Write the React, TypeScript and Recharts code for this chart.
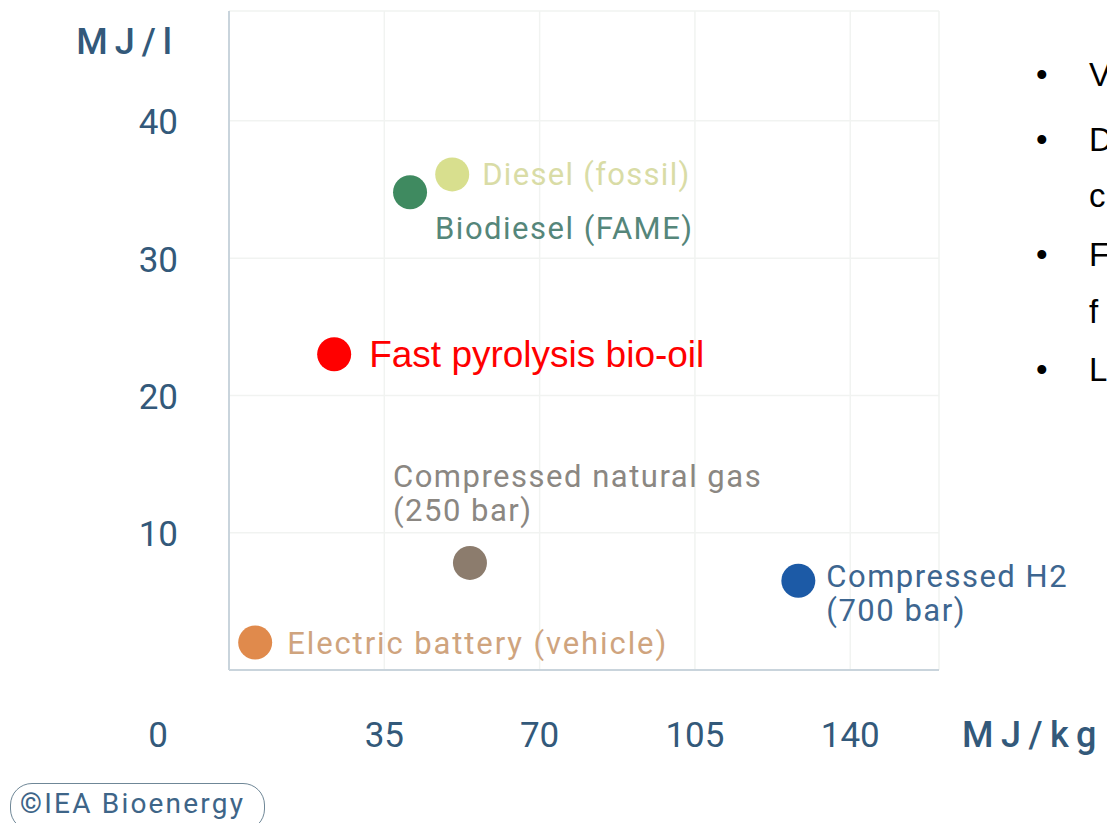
import React from 'react';
import { ScatterChart, Scatter, XAxis, YAxis, CartesianGrid, Label } from 'recharts';

// ---- data ----
const fuelNames = [
  'Diesel (fossil)',
  'Biodiesel (FAME)',
  'Fast pyrolysis bio-oil',
  'Compressed natural gas|(250 bar)',
  'Compressed H2|(700 bar)',
  'Electric battery (vehicle)',
];
const gravimetricMJkg = [50.3, 40.8, 23.7, 54.3, 128.3, 5.9];
const volumetricMJl = [36.1, 34.8, 23.0, 7.8, 6.5, 2.0];
const xTicks = [35, 70, 105, 140];
const yTicks = [0, 10, 20, 30, 40];
const bulletLines = ['V', 'D', 'c', 'F', 'f', 'L'];

// ---- styles ----
const W = 1107;
const H = 823;
const dotColors = ['#d8df8e', '#3f8a60', '#ff0000', '#8c7c6d', '#1c5aa6', '#e08a4c'];
const labelColors = ['#d9dca6', '#55867a', '#ff0000', '#8b8782', '#3d6690', '#cfa47e'];
const labelDx = [30, 25, 35, -77, 28, 32];
const labelDy = [0, 36, 0, -87, -5, 0];
const labelFamily = ['Roboto', 'Roboto', '"Liberation Sans", Arial', 'Roboto', 'Roboto', 'Roboto'];
const labelSize = [31, 31, 37, 31, 31, 31];
const labelSpacing = [1.3, 1.5, 0, 1.5, 1.5, 1.9];
const axisText = '#33597a';

const FuelMark = (props: any) => {
  const { cx, cy, payload } = props;
  const i = payload.i;
  const lines = String(payload.name).split('|');
  return (
    <g>
      <circle cx={cx} cy={cy} r={17} fill={dotColors[i]} />
      <text
        x={cx + labelDx[i]}
        y={cy + labelDy[i]}
        fill={labelColors[i]}
        fontFamily={labelFamily[i]}
        fontSize={labelSize[i]}
        letterSpacing={labelSpacing[i]}
        dominantBaseline="central"
      >
        {lines.map((l, k) => (
          <tspan key={k} x={cx + labelDx[i]} dy={k === 0 ? 0 : 34}>
            {l}
          </tspan>
        ))}
      </text>
    </g>
  );
};

const XTick = (props: any) => {
  const { x, y, payload } = props;
  return (
    <text x={x} y={y + 63} textAnchor="middle" dominantBaseline="central" fill={axisText} fontFamily="Roboto" fontSize={35}>
      {payload.value}
    </text>
  );
};

const YTick = (props: any) => {
  const { x, y, payload } = props;
  const isZero = payload.value === 0;
  return (
    <text
      x={isZero ? x - 59 : x - 49}
      y={isZero ? y + 65 : y + 2}
      textAnchor="end"
      dominantBaseline="central"
      fill={axisText}
      fontFamily="Roboto"
      fontSize={35}
    >
      {payload.value}
    </text>
  );
};

export default function App() {
  const data = fuelNames.map((name, i) => ({ name, x: gravimetricMJkg[i], y: volumetricMJl[i], i }));
  return (
    <div style={{ position: 'absolute', left: 0, top: 0, width: W, height: H, overflow: 'hidden', background: '#fff' }}>
      <ScatterChart width={W} height={H} margin={{ top: 11, right: W - 939, bottom: 0, left: 0 }}>
        <CartesianGrid stroke="#f1f3f1" strokeWidth={1.5} />
        <XAxis
          type="number"
          dataKey="x"
          domain={[0, 160]}
          ticks={xTicks}
          interval={0}
          height={153}
          axisLine={{ stroke: '#c9d4dc', strokeWidth: 2 }}
          tickLine={false}
          tickSize={0}
          tick={<XTick />}
        >
          <Label
            content={(p: any) => (
              <text
                x={p.viewBox.x + p.viewBox.width + 23}
                y={735}
                dominantBaseline="central"
                fill={axisText}
                fontFamily="Roboto"
                fontWeight={500}
                fontSize={36}
                letterSpacing={7.5}
              >
                MJ/kg
              </text>
            )}
          />
        </XAxis>
        <YAxis
          type="number"
          dataKey="y"
          domain={[0, 48]}
          ticks={yTicks}
          interval={0}
          width={229}
          axisLine={{ stroke: '#c9d4dc', strokeWidth: 2 }}
          tickLine={false}
          tickSize={0}
          tick={<YTick />}
        >
          <Label
            content={(p: any) => (
              <text
                x={p.viewBox.x + p.viewBox.width - 50}
                y={p.viewBox.y + 31}
                textAnchor="end"
                dominantBaseline="central"
                fill={axisText}
                fontFamily="Roboto"
                fontWeight={500}
                fontSize={36}
                letterSpacing={7}
              >
                MJ/l
              </text>
            )}
          />
        </YAxis>
        <Scatter data={data} isAnimationActive={false} shape={(p: any) => <FuelMark {...p} />} />
      </ScatterChart>

      <div
        style={{
          position: 'absolute',
          left: 10,
          top: 783,
          width: 255,
          height: 48,
          border: '1.5px solid #6f8797',
          borderRadius: 22,
          boxSizing: 'border-box',
          fontFamily: 'Roboto',
          fontSize: 28,
          color: '#3e6588',
          lineHeight: '40px',
          paddingLeft: 9,
          letterSpacing: 2.2,
          whiteSpace: 'nowrap',
        }}
      >
        <span style={{ fontWeight: 900 }}>©</span>IEA Bioenergy
      </div>

      {bulletLines.map((t, k) => {
        const tops = [75, 140, 196, 255, 312, 370];
        const hasBullet = [true, true, false, true, false, true];
        return (
          <div
            key={k}
            style={{
              position: 'absolute',
              left: 1036,
              top: tops[k] - 20,
              height: 40,
              lineHeight: '40px',
              fontFamily: '"Liberation Sans", Arial',
              fontSize: 33,
              color: '#000',
              whiteSpace: 'nowrap',
            }}
          >
            <span style={{ display: 'inline-block', width: 53 }}>{hasBullet[k] ? '•' : ''}</span>
            {t}
          </div>
        );
      })}
    </div>
  );
}
